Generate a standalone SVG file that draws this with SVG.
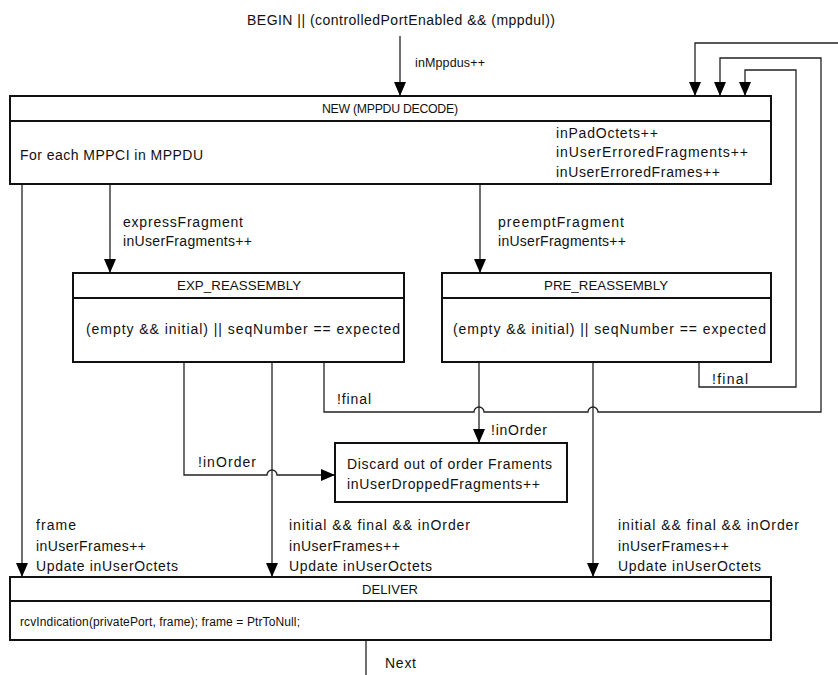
<svg xmlns="http://www.w3.org/2000/svg" width="838" height="675" viewBox="0 0 838 675">
<style>
text{font-family:"Liberation Sans",Arial,sans-serif;font-size:14px;fill:#111}
.n{font-size:12.5px}
.box{fill:#fff;stroke:#111;stroke-width:2}
.div{stroke:#111;stroke-width:2}
.c{fill:none;stroke:#222;stroke-width:1.3}
</style>
<defs>
<marker id="ah" markerUnits="userSpaceOnUse" markerWidth="14" markerHeight="12" refX="14" refY="6" orient="auto"><path d="M0,0L14,6L0,12z" fill="#000"/></marker>
</defs>
<rect width="838" height="675" fill="#fff"/>
<g id="connectors">
<path class="c" d="M400,36V96" marker-end="url(#ah)"/>
<path class="c" d="M838,43H695V96" marker-end="url(#ah)"/>
<path class="c" d="M324,362V412H474A5,5 0 0 1 484,412H588A5,5 0 0 1 598,412H821V58H720V96" marker-end="url(#ah)"/>
<path class="c" d="M699,362V387H796V70H745V96" marker-end="url(#ah)"/>
<path class="c" d="M110,184V273" marker-end="url(#ah)"/>
<path class="c" d="M480,184V273" marker-end="url(#ah)"/>
<path class="c" d="M479,362V443" marker-end="url(#ah)"/>
<path class="c" d="M184,362V475H267A5,5 0 0 1 277,475H335" marker-end="url(#ah)"/>
<path class="c" d="M22,184V577" marker-end="url(#ah)"/>
<path class="c" d="M272,362V577" marker-end="url(#ah)"/>
<path class="c" d="M593,362V577" marker-end="url(#ah)"/>
<path class="c" d="M366,640V675"/>
</g>
<g id="labels">
<text x="247" y="25" textLength="308" lengthAdjust="spacing">BEGIN || (controlledPortEnabled &amp;&amp; (mppdul))</text>
<text x="415" y="67" class="n" textLength="70" lengthAdjust="spacing">inMppdus++</text>
<text x="123" y="227" textLength="120" lengthAdjust="spacing">expressFragment</text>
<text x="123" y="246" textLength="129" lengthAdjust="spacing">inUserFragments++</text>
<text x="498" y="227" textLength="126" lengthAdjust="spacing">preemptFragment</text>
<text x="498" y="246" textLength="128" lengthAdjust="spacing">inUserFragments++</text>
<text x="337" y="404" textLength="34" lengthAdjust="spacing">!final</text>
<text x="712" y="384" textLength="36" lengthAdjust="spacing">!final</text>
<text x="491" y="435" textLength="56" lengthAdjust="spacing">!inOrder</text>
<text x="198" y="467" textLength="58" lengthAdjust="spacing">!inOrder</text>
<text x="36" y="530" textLength="40" lengthAdjust="spacing">frame</text>
<text x="36" y="551" textLength="110" lengthAdjust="spacing">inUserFrames++</text>
<text x="36" y="571" textLength="142" lengthAdjust="spacing">Update inUserOctets</text>
<text x="289" y="530" textLength="181" lengthAdjust="spacing">initial &amp;&amp; final &amp;&amp; inOrder</text>
<text x="289" y="551" textLength="111" lengthAdjust="spacing">inUserFrames++</text>
<text x="289" y="571" textLength="143" lengthAdjust="spacing">Update inUserOctets</text>
<text x="618" y="530" textLength="181" lengthAdjust="spacing">initial &amp;&amp; final &amp;&amp; inOrder</text>
<text x="618" y="551" textLength="111" lengthAdjust="spacing">inUserFrames++</text>
<text x="618" y="571" textLength="143" lengthAdjust="spacing">Update inUserOctets</text>
<text x="385" y="668" textLength="31" lengthAdjust="spacing">Next</text>
</g>
<g id="new">
<rect class="box" x="10" y="96" width="761" height="88"/>
<line class="div" x1="10" y1="121" x2="771" y2="121"/>
<text x="322" y="113" style="font-size:12.3px" textLength="136" lengthAdjust="spacing">NEW (MPPDU DECODE)</text>
<text x="20" y="160" textLength="183" lengthAdjust="spacing">For each MPPCI in MPPDU</text>
<text x="556" y="138" textLength="102" lengthAdjust="spacing">inPadOctets++</text>
<text x="556" y="157" textLength="192" lengthAdjust="spacing">inUserErroredFragments++</text>
<text x="556" y="177" textLength="164" lengthAdjust="spacing">inUserErroredFrames++</text>
</g>
<g id="exp">
<rect class="box" x="73" y="273" width="331" height="89"/>
<line class="div" x1="73" y1="298" x2="404" y2="298"/>
<text x="177" y="290" style="font-size:13.3px" textLength="124" lengthAdjust="spacing">EXP_REASSEMBLY</text>
<text x="86" y="334" textLength="314" lengthAdjust="spacing">(empty &amp;&amp; initial) || seqNumber == expected</text>
</g>
<g id="pre">
<rect class="box" x="442" y="273" width="329" height="89"/>
<line class="div" x1="442" y1="298" x2="771" y2="298"/>
<text x="544" y="290" style="font-size:13.3px" textLength="124" lengthAdjust="spacing">PRE_REASSEMBLY</text>
<text x="453" y="334" textLength="313" lengthAdjust="spacing">(empty &amp;&amp; initial) || seqNumber == expected</text>
</g>
<g id="discard">
<rect class="box" x="335" y="443" width="232" height="59"/>
<text x="347" y="469" textLength="205" lengthAdjust="spacing">Discard out of order Framents</text>
<text x="347" y="489" textLength="193" lengthAdjust="spacing">inUserDroppedFragments++</text>
</g>
<g id="deliver">
<rect class="box" x="10" y="577" width="761" height="63"/>
<line class="div" x1="10" y1="601" x2="771" y2="601"/>
<text x="362" y="594" style="font-size:13px" textLength="56" lengthAdjust="spacing">DELIVER</text>
<text x="20" y="626" style="font-size:12px" textLength="280" lengthAdjust="spacing">rcvIndication(privatePort, frame); frame = PtrToNull;</text>
</g>
</svg>
